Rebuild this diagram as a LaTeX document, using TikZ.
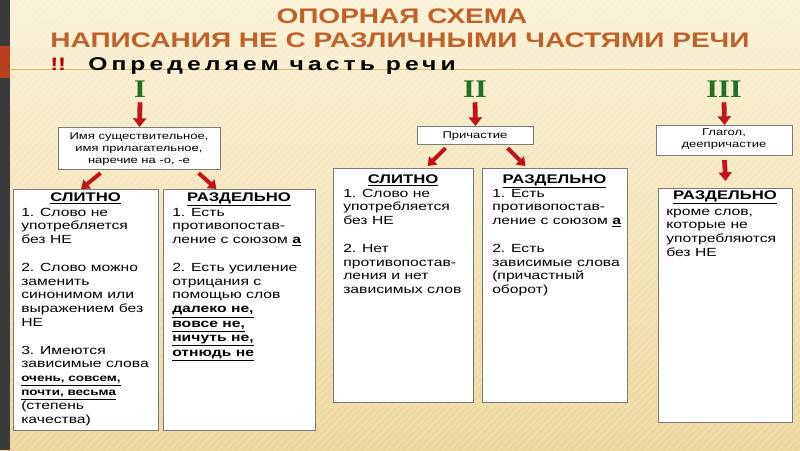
\documentclass[tikz,border=0pt]{standalone}
\usepackage{fontspec}
\setmainfont{Liberation Sans}[FakeStretch=1.33]
\newfontfamily\serf{Liberation Serif}[FakeStretch=1.2]
\newfontfamily\spacedf{Liberation Sans}[FakeStretch=1.33,LetterSpace=22]
\usetikzlibrary{arrows.meta,calc}
\newdimen\px \px=0.75pt
\definecolor{bgtop}{HTML}{FAF1D6}
\definecolor{bgbot}{HTML}{EDD69C}
\definecolor{stripdark}{HTML}{3A3A3A}
\definecolor{stripred}{HTML}{B8401E}
\definecolor{titlec}{HTML}{C0602A}
\definecolor{numgreen}{HTML}{237023}
\definecolor{arrred}{HTML}{C01418}
\definecolor{boxgray}{HTML}{7A7A7A}
\definecolor{rulec}{HTML}{E2B673}
\tikzset{
  frame/.style={draw=boxgray, line width=0.8pt, fill=white, inner sep=0pt, anchor=north west},
  hdr/.style={anchor=base, inner sep=0pt, font=\fontsize{9.4pt}{11pt}\selectfont\bfseries},
  body/.style={anchor=base west, inner sep=0pt, font=\fontsize{8.85pt}{10.35pt}\selectfont},
  smalltxt/.style={anchor=base, inner sep=0pt, font=\fontsize{7.35pt}{9pt}\selectfont},
  numeral/.style={anchor=base, inner sep=0pt, text=numgreen, font=\fontsize{19pt}{22pt}\serf\bfseries},
  redarr/.style={draw=arrred, line width=3.6pt, -{Triangle[width=9.75pt,length=6.5pt]}},
  diagarr/.style={draw=arrred, line width=3pt, -{Triangle[width=8.5pt,length=6pt]}},
}
\newcommand{\ul}[1]{\underline{\textbf{#1}}}
\begin{document}
\begin{tikzpicture}[x=0.75pt,y=-0.75pt]
\useasboundingbox (0,0) rectangle (800,450);
% background
\shade[top color=bgtop, bottom color=bgbot] (0,0) rectangle (800,450);
\begin{scope}
\clip (10,0) rectangle (800,450);
\foreach \i in {-440,-433,...,800} \draw[white, opacity=0.22, line width=0.9pt] (\i,450) -- ++(450,-450);
\end{scope}
\fill[stripdark] (0,0) rectangle (10,450);
\fill[stripred] (0,46) rectangle (10,78);
\draw[rulec, line width=0.75pt] (11,69) -- (800,69);
% titles
\node[anchor=base, inner sep=0pt, text=titlec, font=\fontsize{15.8pt}{18pt}\selectfont\bfseries] (t1) at (402,23) {ОПОРНАЯ СХЕМА};
\node[anchor=base, inner sep=0pt, text=titlec, font=\fontsize{15.8pt}{18pt}\selectfont\bfseries] (t2) at (400,47) {НАПИСАНИЯ НЕ С РАЗЛИЧНЫМИ ЧАСТЯМИ РЕЧИ};
\node[anchor=base west, inner sep=0pt, text=red!75!black, font=\fontsize{13.5pt}{15pt}\selectfont\bfseries] (ex) at (50,70) {!!};
\node[anchor=base west, inner sep=0pt, font=\fontsize{13.9pt}{16pt}\spacedf\bfseries] (opr) at (88,70) {Определяем часть речи};
% numerals
\node[numeral] (n1) at (140,97) {I};
\node[numeral] (n2) at (475,97) {II};
\node[numeral] (n3) at (724,97) {III};
% small boxes
\node[frame, minimum width=162\px, minimum height=42\px] (b1) at (58,127) {};
\node[smalltxt] (b1t) at (139,139) {\begin{tabular}[t]{@{}c@{}}Имя существительное,\\ имя прилагательное,\\ наречие на -о, -е\end{tabular}};
\node[frame, minimum width=116\px, minimum height=18\px] (b2) at (417,126) {};
\node[smalltxt] (b2t) at (475,138) {Причастие};
\node[frame, minimum width=136\px, minimum height=30\px] (b3) at (656,125) {};
\node[smalltxt] (b3t) at (724,135) {\begin{tabular}[t]{@{}c@{}}Глагол,\\ деепричастие\end{tabular}};
% big boxes
\node[frame, minimum width=145\px, minimum height=241\px] (L1) at (13,189) {};
\node[frame, minimum width=152\px, minimum height=241\px] (L2) at (163,189) {};
\node[frame, minimum width=140\px, minimum height=234\px] (M1) at (333,168) {};
\node[frame, minimum width=145\px, minimum height=234\px] (M2) at (482,168) {};
\node[frame, minimum width=134\px, minimum height=234\px] (R) at (658,188) {};
% headers
\node[hdr] (L1h) at (85.5,201) {\underline{СЛИТНО}};
\node[hdr] (L2h) at (239,201) {\underline{РАЗДЕЛЬНО}};
\node[hdr] (M1h) at (403,183) {\underline{СЛИТНО}};
\node[hdr] (M2h) at (554.5,183) {\underline{РАЗДЕЛЬНО}};
\node[hdr] (Rh) at (725,199) {\underline{РАЗДЕЛЬНО}};
% bodies
\node[body] (L1t) at (21,216) {\begin{tabular}[t]{@{}l@{}}
1. Слово не\\ употребляется\\ без НЕ\\ \\
2. Слово можно\\ заменить\\ синонимом или\\ выражением без\\ НЕ\\ \\
3. Имеются\\ зависимые слова\\
{\fontsize{7.6pt}{9pt}\selectfont\ul{очень, совсем,}}\\
{\fontsize{7.6pt}{9pt}\selectfont\ul{почти, весьма}}\\
(степень\\ качества)\end{tabular}};
\node[body] (L2t) at (172,216) {\begin{tabular}[t]{@{}l@{}}
1. Есть\\ противопостав-\\ ление с союзом \ul{а}\\ \\
2. Есть усиление\\ отрицания с\\ помощью слов\\
\ul{далеко не,}\\ \ul{вовсе не,}\\ \ul{ничуть не,}\\ \ul{отнюдь не}\end{tabular}};
\node[body] (M1t) at (343,197) {\begin{tabular}[t]{@{}l@{}}
1. Слово не\\ употребляется\\ без НЕ\\ \\
2. Нет\\ противопостав-\\ ления и нет\\ зависимых слов\end{tabular}};
\node[body] (M2t) at (492,197) {\begin{tabular}[t]{@{}l@{}}
1. Есть\\ противопостав-\\ ление с союзом \ul{а}\\ \\
2. Есть\\ зависимые слова\\ (причастный\\ оборот)\end{tabular}};
\node[body] (Rt) at (666,215) {\begin{tabular}[t]{@{}l@{}}
кроме слов,\\ которые не\\ употребляются\\ без НЕ\end{tabular}};
% arrows
\draw[redarr] ($(n1.south)+(0,5)$) -- (b1.north);
\draw[redarr] ($(n2.south)+(0,5)$) -- (b2.north);
\draw[redarr] ($(n3.south)+(0,5)$) -- (b3.north);
\draw[redarr] ($(b3.south)+(0,4)$) -- ($(R.north)+(0,-7)$);
\draw[diagarr] ($(b1.south)+(-39,3)$) -- ($(L1.north)+(-5,0)$);
\draw[diagarr] ($(b1.south)+(59,3)$) -- ($(L2.north)+(-23,0)$);
\draw[diagarr] ($(b2.south)+(-30,3)$) -- ($(M1.north)+(24,-2)$);
\draw[diagarr] ($(b2.south)+(32,3)$) -- ($(M2.north)+(-29.5,-2)$);
\end{tikzpicture}
\end{document}
